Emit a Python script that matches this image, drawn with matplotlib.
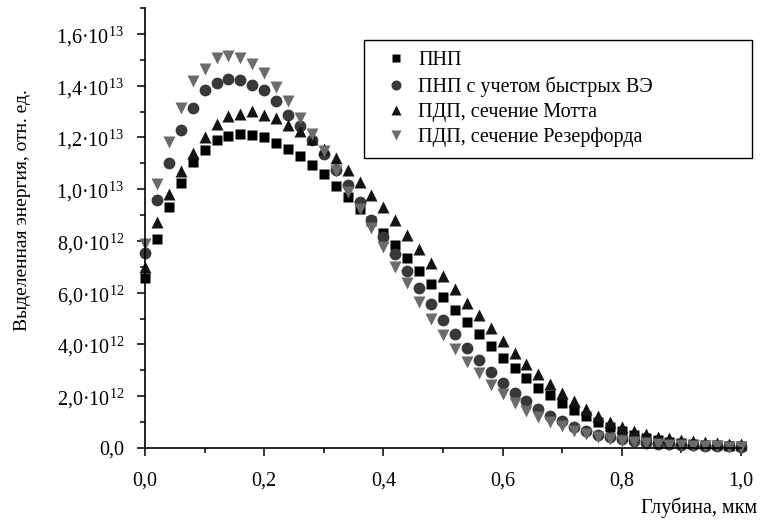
import numpy as np
import matplotlib
matplotlib.use('Agg')
import matplotlib.pyplot as plt
from matplotlib.ticker import MultipleLocator

plt.rcParams['font.family'] = ['Liberation Serif', 'DejaVu Serif']
plt.rcParams['mathtext.fontset'] = 'custom'
plt.rcParams['mathtext.rm'] = 'Liberation Serif'
plt.rcParams['mathtext.default'] = 'regular'

# глубина, мкм (шаг 0.02)
glubina = np.arange(51) * 0.02

# выделенная энергия, 1e12 отн. ед.
pnp = [6.55, 8.08, 9.32, 10.24, 11.05, 11.53, 11.89, 12.05, 12.15, 12.11,
       12.02, 11.80, 11.54, 11.29, 10.95, 10.57, 10.13, 9.70, 9.22, 8.77,
       8.31, 7.84, 7.35, 6.82, 6.32, 5.84, 5.33, 4.85, 4.40, 3.95,
       3.48, 3.10, 2.69, 2.33, 2.05, 1.75, 1.47, 1.22, 1.01, 0.80,
       0.64, 0.50, 0.39, 0.31, 0.25, 0.20, 0.16, 0.13, 0.10, 0.08, 0.06]
pnp_ve = [7.55, 9.58, 11.03, 12.28, 13.12, 13.85, 14.10, 14.27, 14.23, 14.04,
          13.82, 13.41, 12.88, 12.43, 11.89, 11.35, 10.73, 10.15, 9.51, 8.80,
          8.14, 7.49, 6.85, 6.20, 5.56, 4.94, 4.39, 3.85, 3.40, 2.92,
          2.50, 2.14, 1.81, 1.49, 1.24, 1.04, 0.82, 0.66, 0.52, 0.41,
          0.33, 0.26, 0.21, 0.17, 0.14, 0.12, 0.10, 0.08, 0.07, 0.06, 0.05]
pdp_mott = [7.00, 8.74, 9.83, 10.72, 11.41, 12.02, 12.51, 12.82, 12.92, 13.01,
            12.88, 12.75, 12.47, 12.24, 11.95, 11.57, 11.19, 10.73, 10.28, 9.77,
            9.33, 8.79, 8.24, 7.67, 7.13, 6.64, 6.13, 5.59, 5.14, 4.62,
            4.14, 3.67, 3.24, 2.87, 2.46, 2.12, 1.80, 1.50, 1.23, 1.00,
            0.80, 0.65, 0.53, 0.44, 0.37, 0.31, 0.27, 0.23, 0.20, 0.17, 0.15]
pdp_rez = [7.90, 10.20, 11.83, 13.15, 14.17, 14.66, 15.08, 15.14, 15.05, 14.85,
           14.47, 13.95, 13.41, 12.75, 12.15, 11.48, 10.71, 9.90, 9.22, 8.50,
           7.77, 7.00, 6.36, 5.65, 5.00, 4.36, 3.82, 3.31, 2.88, 2.43,
           2.08, 1.75, 1.43, 1.19, 1.00, 0.84, 0.67, 0.53, 0.42, 0.34,
           0.27, 0.22, 0.18, 0.15, 0.12, 0.10, 0.08, 0.07, 0.06, 0.05, 0.04]

nazvaniya = ['ПНП', 'ПНП с учетом быстрых ВЭ', 'ПДП, сечение Мотта', 'ПДП, сечение Резерфорда']

yticks = [0, 2e12, 4e12, 6e12, 8e12, 1e13, 1.2e13, 1.4e13, 1.6e13]
ytick_labels = ['0,0', '2,0·10$^{12}$', '4,0·10$^{12}$', '6,0·10$^{12}$', '8,0·10$^{12}$',
                '1,0·10$^{13}$', '1,2·10$^{13}$', '1,4·10$^{13}$', '1,6·10$^{13}$']
xticks = [0, 0.2, 0.4, 0.6, 0.8, 1.0]
xtick_labels = ['0,0', '0,2', '0,4', '0,6', '0,8', '1,0']

fig = plt.figure(figsize=(7.83, 5.25), dpi=100)
ax = fig.add_axes([145 / 783, 77 / 525, 596 / 783, 440 / 525])

e = 1e12
ax.plot(glubina, np.array(pnp) * e, 's', color='black', ms=7.3, mec='none', label=nazvaniya[0])
ax.plot(glubina, np.array(pnp_ve) * e, 'o', color='#383838', ms=8.5, mec='none', label=nazvaniya[1])
ax.plot(glubina, np.array(pdp_mott) * e, '^', color='#141414', ms=8.8, mec='none', label=nazvaniya[2])
ax.plot(glubina, np.array(pdp_rez) * e, 'v', color='#6b6b6b', ms=8.8, mec='none', label=nazvaniya[3])

ax.set_xlim(0, 1.0)
ax.set_ylim(0, 1.7e13)
ax.set_xticks(xticks)
ax.set_xticklabels(xtick_labels)
ax.set_yticks(yticks)
ax.set_yticklabels(ytick_labels)
ax.xaxis.set_minor_locator(MultipleLocator(0.1))
ax.yaxis.set_minor_locator(MultipleLocator(1e12))
ax.tick_params(which='major', direction='out', length=6, width=1.1, labelsize=14.5)
ax.tick_params(which='minor', direction='out', length=3.5, width=1.1)
ax.tick_params(axis='x', which='major', pad=11)
ax.tick_params(axis='y', which='major', pad=9)

for s in ['top', 'right']:
    ax.spines[s].set_visible(False)
for s in ['left', 'bottom']:
    ax.spines[s].set_linewidth(1.2)
    ax.spines[s].set_clip_on(False)

for line in ax.get_lines():
    line.set_clip_on(False)

leg = ax.legend(loc='upper left', bbox_to_anchor=(364 / 783, 1 - 152 / 525, 388 / 783, 112 / 525),
                bbox_transform=fig.transFigure, mode='expand', borderaxespad=0,
                fontsize=14.5, numpoints=1, markerscale=0.85, handlelength=2.1,
                handletextpad=0.05, labelspacing=0.3, borderpad=0.55, fancybox=False,
                framealpha=1, edgecolor='black')
leg.get_frame().set_linewidth(1.0)

fig.text(23 / 783, 1 - 210 / 525, 'Выделенная энергия, отн. ед.', rotation=90,
         ha='center', va='center', fontsize=14)
fig.text(757 / 783, 17 / 525, 'Глубина, мкм', ha='right', va='center', fontsize=14.5)

fig.savefig('out.png', dpi=100)
